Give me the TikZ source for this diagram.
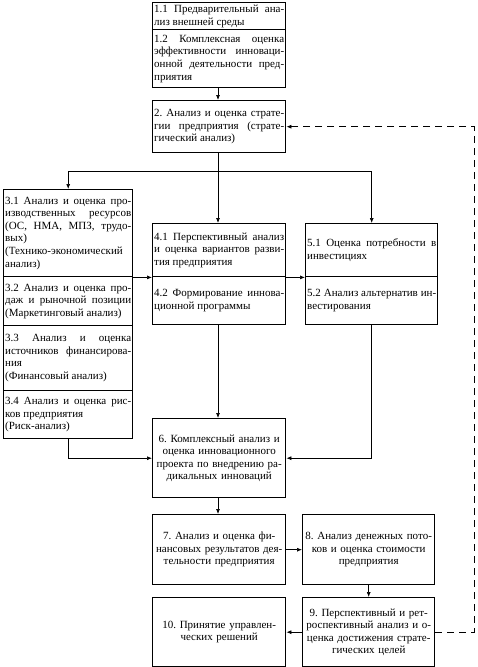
\documentclass[tikz,border=0pt]{standalone}
\usepackage{fontspec}
\setmainfont{Liberation Serif}
\usepackage{tikz}
\usetikzlibrary{positioning,calc}
\usetikzlibrary{arrows.meta}
\hyphenpenalty=10000
\exhyphenpenalty=10000
\tolerance=10000
\frenchspacing
\tikzstyle{blocco} = [rectangle, draw=black, line width=1.4pt, anchor=north west,
inner xsep=1.5pt, inner ysep=0pt, align=justify, font=\rmfamily\fontsize{11}{12.6}\selectfont\frenchspacing]
\tikzstyle{centro} = [blocco, align=center]
\tikzstyle{arrow} = [line width=0.7pt, -{Latex[length=5pt,width=4pt]}]
\tikzstyle{ritorno} = [arrow, dash pattern=on 7pt off 5pt]

\begin{document}
\begin{tikzpicture}[x=1pt,y=1pt]
						\useasboundingbox (0,0) rectangle (478,-667);
						\node at (152,-2) [blocco, text width=130pt, minimum height=27pt] (b11) {1.1 Предварительный ана-\linebreak лиз внешней среды};
						\node at (152,-29) [blocco, text width=130pt, minimum height=58pt] (b12) {1.2 Комплексная оценка\linebreak эффективности инноваци-\linebreak онной деятельности пред-\linebreak приятия};
						\node at (152,-100) [blocco, text width=130pt, minimum height=52pt] (b2) {2. Анализ и оценка страте-\linebreak гии предприятия (страте-\linebreak гический анализ)};
						\coordinate (j) at (218,-171);
						\node at (3,-189) [blocco, text width=126pt, minimum height=87pt] (b31) {3.1 Анализ и оценка про-\linebreak изводственных ресурсов\linebreak (ОС, НМА, МПЗ, трудо-\linebreak вых)\\ (Технико-экономический\linebreak анализ)};
						\node at (3,-276) [blocco, text width=126pt, minimum height=49pt] (b32) {3.2 Анализ и оценка про-\linebreak даж и рыночной позиции\linebreak (Маркетинговый анализ)};
						\node at (3,-325) [blocco, text width=126pt, minimum height=65pt] (b33) {3.3 Анализ и оценка\linebreak источников финансирова-\linebreak ния\\ (Финансовый анализ)};
						\node at (3,-390) [blocco, text width=126pt, minimum height=48pt] (b34) {3.4 Анализ и оценка рис-\linebreak ков предприятия\\ (Риск-анализ)};
						\node at (152,-223) [blocco, text width=130pt, minimum height=53pt] (b41) {4.1 Перспективный анализ\linebreak и оценка вариантов разви-\linebreak тия предприятия};
						\node at (152,-276) [blocco, text width=130pt, minimum height=48pt] (b42) {4.2 Формирование иннова-\linebreak ционной программы};
						\node at (305,-223) [blocco, text width=129pt, minimum height=53pt] (b51) {5.1 Оценка потребности в\linebreak инвестициях};
						\node at (305,-276) [blocco, text width=129pt, minimum height=48pt] (b52) {5.2 Анализ альтернатив ин-\linebreak вестирования};
						\node at (152,-418) [centro, text width=130pt, minimum height=79pt] (b6) {6. Комплексный анализ и\\ оценка инновационного\\ проекта по внедрению ра-\\ дикальных инноваций};
						\node at (152,-514) [centro, text width=130pt, minimum height=70pt] (b7) {7. Анализ и оценка фи-\\ нансовых результатов дея-\\ тельности предприятия};
						\node at (302,-514) [centro, text width=129pt, minimum height=70pt] (b8) {8. Анализ денежных пото-\\ ков и оценка стоимости\\ предприятия};
						\node at (302,-597) [centro, text width=129pt, minimum height=69pt] (b9) {9. Перспективный и рет-\\ роспективный анализ и о-\\ ценка достижения страте-\\ гических целей};
						\node at (152,-597) [centro, text width=130pt, minimum height=69pt] (b10) {10. Принятие управлен-\\ ческих решений};
						\coordinate (d) at (474,0);
						\draw[arrow] (b12.south -| j) -- (b2.north -| j);
						\draw[line width=0.7pt] (b2.south -| j) -- (j);
						\draw[arrow] (j) -| (b31.north);
						\draw[arrow] (j) -- (b41.north -| j);
						\draw[arrow] (j) -| (b51.north);
						\draw[arrow] (b31.south east) -- (b41.south west);
						\draw[arrow] (b41.south east) -- (b51.south west);
						\draw[arrow] (b42.south -| j) -- (b6.north -| j);
						\draw[arrow] (b34.south) |- (b6.west);
						\draw[arrow] (b52.south) |- (b6.east);
						\draw[arrow] (b6.south -| j) -- (b7.north -| j);
						\draw[arrow] (b7.east) -- (b8.west);
						\draw[arrow] (b8.south) -- (b9.north);
						\draw[arrow] (b9.west) -- (b10.east);
						\draw[ritorno] (b9.east) -| (d |- b2.east) -- (b2.east);
					\end{tikzpicture}
\end{document}
